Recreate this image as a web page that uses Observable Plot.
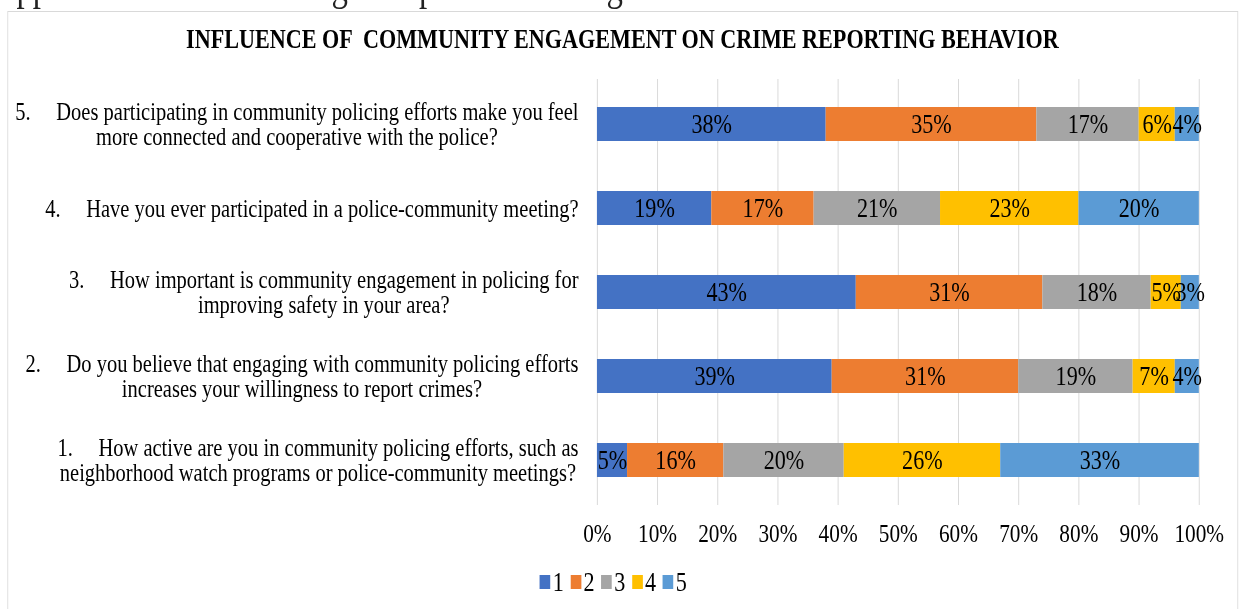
<!DOCTYPE html>
<html>
<head>
<meta charset="utf-8">
<script src="https://cdn.jsdelivr.net/npm/d3@7"></script>
<script src="https://cdn.jsdelivr.net/npm/@observablehq/plot@0.6"></script>
<style>
  html, body { margin: 0; padding: 0; background: #fff; overflow: hidden; width: 1244px; height: 609px; }
  /* the figure is laid out on a wider canvas and condensed horizontally */
  #page { position: absolute; left: 0; top: 0; width: 1517px; height: 609px;
          transform: scaleX(0.82); transform-origin: 0 0;
          font-family: "Liberation Serif", "Times New Roman", serif; color: #000; }
  #lead { position: absolute; left: 0; top: -33px; font-size: 40px; line-height: 40px; white-space: nowrap; color: #222; }
  #frame { position: absolute; left: 8.5px; top: 11px; width: 1501px; height: 700px;
           border: 1px solid #d9d9d9; box-sizing: border-box; background: #fff; }
  #title { position: absolute; left: 8.5px; width: 1501px; top: 26px; text-align: center;
           font-weight: bold; font-size: 27px; line-height: 27px; white-space: pre; }
  #chart { position: absolute; left: 0; top: 60px; }
  #legend { position: absolute; left: 658px; top: 567px; display: flex; align-items: center;
            font-size: 27px; line-height: 30px; }
  #legend .item { display: flex; align-items: center; margin-right: 8px; }
  #legend .sw { width: 13px; height: 14px; margin-right: 3px; }
</style>
</head>
<body>
<div id="page">
  <div id="lead">opportunities and challenges as presented in figure 4.6.</div>
  <div id="frame"></div>
  <div id="title">INFLUENCE OF  COMMUNITY ENGAGEMENT ON CRIME REPORTING BEHAVIOR</div>
  <div id="chart"></div>
  <div id="legend"></div>
</div>
<script>
// Survey questions, listed top to bottom as they appear on the chart
const questions = [
  "5.\u2003\u2005Does participating in community policing efforts make you feel\nmore connected and cooperative with the police?",
  "4.\u2003\u2005Have you ever participated in a police-community meeting?",
  "3.\u2003\u2005How important is community engagement in policing for\nimproving safety in your area?",
  "2.\u2003\u2005Do you believe that engaging with community policing efforts\nincreases your willingness to report crimes?",
  "1.\u2003\u2005How active are you in community policing efforts, such as\nneighborhood watch programs or police-community meetings?"
];

// Response levels on the 1–5 scale and their colours
const levels = ["1", "2", "3", "4", "5"];
const levelColors = ["#4472C4", "#ED7D31", "#A5A5A5", "#FFC000", "#5B9BD5"];

// Share of respondents (%) per level, one array per question (same order as above)
const q5Shares = [38, 35, 17, 6, 4];
const q4Shares = [19, 17, 21, 23, 20];
const q3Shares = [43, 31, 18, 5, 3];
const q2Shares = [39, 31, 19, 7, 4];
const q1Shares = [5, 16, 20, 26, 33];

// Axis ticks
const xTicks = [0, 10, 20, 30, 40, 50, 60, 70, 80, 90, 100];

const shares = [q5Shares, q4Shares, q3Shares, q2Shares, q1Shares];
const rows = questions.flatMap((q, i) =>
  shares[i].map((v, j) => ({question: q, level: levels[j], value: v}))
);

// Question labels are centred blocks whose right edge sits just left of the bars
const labelFont = 25;
const ctx = document.createElement("canvas").getContext("2d");
ctx.font = `${labelFont}px "Liberation Serif"`;
const labelGap = 23;
const labelMarks = questions.map(q => {
  const w = d3.max(q.split("\n"), s => ctx.measureText(s).width);
  return Plot.text([q], {
    y: d => d, text: d => d,
    frameAnchor: "left", textAnchor: "middle", lineAnchor: "middle",
    lineHeight: 1.0, fontSize: labelFont, fill: "#000",
    dx: -(labelGap + w / 2)
  });
});

const chart = Plot.plot({
  width: 1517,
  height: 490,
  marginLeft: 728,
  marginRight: 55,
  marginTop: 19,
  marginBottom: 45,
  style: {fontFamily: "Liberation Serif", fontSize: "26px", color: "#000", background: "transparent", overflow: "visible"},
  x: {domain: [0, 100]},
  y: {domain: questions, paddingInner: 0.598, paddingOuter: 0.314, axis: null},
  color: {domain: levels, range: levelColors},
  marks: [
    Plot.gridX(xTicks, {stroke: "#d9d9d9", strokeOpacity: 1, strokeWidth: 1.2}),
    Plot.axisX(xTicks, {anchor: "bottom", tickSize: 0, tickPadding: 18, fontSize: 26, fill: "#000",
                        tickFormat: d => d + "%", label: null}),
    Plot.barX(rows, Plot.stackX({x: "value", y: "question", fill: "level"})),
    Plot.text(rows, Plot.stackX({x: "value", y: "question", z: "level",
                                 text: d => d.value + "%", fontSize: 27, fill: "#000"})),
    ...labelMarks
  ]
});
document.getElementById("chart").appendChild(chart);

// Legend below the chart
const legend = d3.select("#legend");
levels.forEach((lv, i) => {
  const item = legend.append("div").attr("class", "item");
  item.append("div").attr("class", "sw").style("background", levelColors[i]);
  item.append("span").text(lv);
});
</script>
</body>
</html>
